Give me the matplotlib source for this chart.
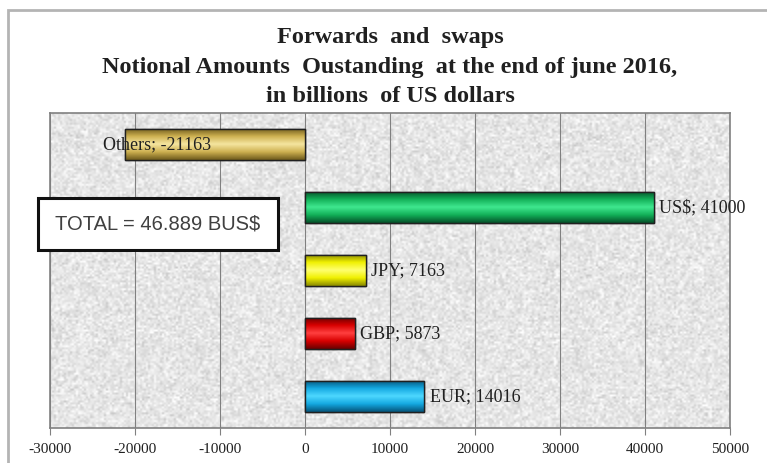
import matplotlib
matplotlib.use("Agg")
import matplotlib.pyplot as plt
from matplotlib.patches import Rectangle
import numpy as np

# Data (billions of US dollars), bottom to top
currencies = ["EUR", "GBP", "JPY", "US$", "Others"]
amounts = [14016, 5873, 7163, 41000, -21163]
total_label = "TOTAL = 46.889 BUS$"
title_lines = ["Forwards  and  swaps",
               "Notional Amounts  Oustanding  at the end of june 2016,",
               "in billions  of US dollars"]
x_ticks = [-30000, -20000, -10000, 0, 10000, 20000, 30000, 40000, 50000]

# bar colours: (dark, base, light)
bar_colors = {
    "EUR": ("#06547a", "#14a8e0", "#4ed8ff"),
    "GBP": ("#6a0000", "#d80000", "#ff4040"),
    "JPY": ("#8a8a00", "#f0f000", "#ffff70"),
    "US$": ("#06502a", "#12b058", "#40e890"),
    "Others": ("#6e5a1c", "#cdb050", "#f5e6a0"),
}

serif = "Liberation Serif"

fig = plt.figure(figsize=(7.67, 4.63), dpi=100)
fig.patch.set_facecolor("white")

# outer chart frame
fig.add_artist(Rectangle((8 / 767, -0.01), 1.0, (463 - 10) / 463 + 0.01,
                         transform=fig.transFigure, fill=False,
                         edgecolor="#b4b4b4", lw=2))

ax = fig.add_axes([50 / 767, 35 / 463, 680 / 767, 315 / 463])
ax.set_xlim(-30000, 50000)
ax.set_ylim(-0.5, len(currencies) - 0.5)

# stippled gray background texture
rng = np.random.default_rng(3)
tex = 0.90 + 0.05 * rng.standard_normal((160, 340))
tex = np.clip(tex, 0.78, 1.0)
ax.imshow(tex, cmap="gray", vmin=0, vmax=1, extent=(-30000, 50000, -0.5, 4.5),
          aspect="auto", zorder=0, interpolation="bilinear")

for x in x_ticks:
    ax.axvline(x, color="#808080", lw=0.8, zorder=1)

bar_h = 0.5
for i, (name, val) in enumerate(zip(currencies, amounts)):
    dark, base, light = bar_colors[name]
    bars = ax.barh(i, val, height=bar_h, color=base, edgecolor="#202020",
                   lw=1.0, zorder=3)
    patch = bars[0]
    # bevel-like shading
    cmap = matplotlib.colors.LinearSegmentedColormap.from_list(
        name, [dark, base, light, base, dark])
    grad = np.linspace(0, 1, 64).reshape(-1, 1)
    x0, x1 = sorted([0, val])
    im = ax.imshow(grad, cmap=cmap, extent=(x0, x1, i - bar_h / 2, i + bar_h / 2),
                   aspect="auto", zorder=3.5, origin="lower")
    im.set_clip_path(patch)
    ax.barh(i, val, height=bar_h, fill=False, edgecolor="#202020", lw=1.0,
            zorder=4)

    label = f"{name}; {val}"
    offset = (4, 0) if val >= 0 else (-16, 0)
    ax.annotate(label, xy=(val, i), xytext=offset, textcoords="offset points",
                ha="left", va="center", fontsize=13, family=serif,
                color="#202020", zorder=5, annotation_clip=False)

ax.set_xticks(x_ticks)
ax.set_xticklabels([str(t) for t in x_ticks], family=serif, fontsize=11,
                   color="#202020")
ax.set_yticks([])
ax.tick_params(axis="x", length=5, color="#808080", pad=6)
for s in ax.spines.values():
    s.set_color("#808080")
    s.set_linewidth(1.2)

# title
for k, line in enumerate(title_lines):
    fig.text(390 / 767, 1 - (38 + 29.5 * k) / 463, line, ha="center", va="center",
             family=serif, fontweight="bold", fontsize=17.5, color="#202020")

# total box
fig.add_artist(Rectangle((38 / 767, (463 - 250) / 463), 240 / 767, 52 / 463,
                         transform=fig.transFigure, facecolor="white",
                         edgecolor="#111111", lw=2.2, zorder=10))
fig.text(158 / 767, (463 - 224) / 463, total_label, ha="center", va="center",
         family="Liberation Sans", fontsize=14.5, color="#404040", zorder=11)

fig.savefig("out.png", dpi=100)
